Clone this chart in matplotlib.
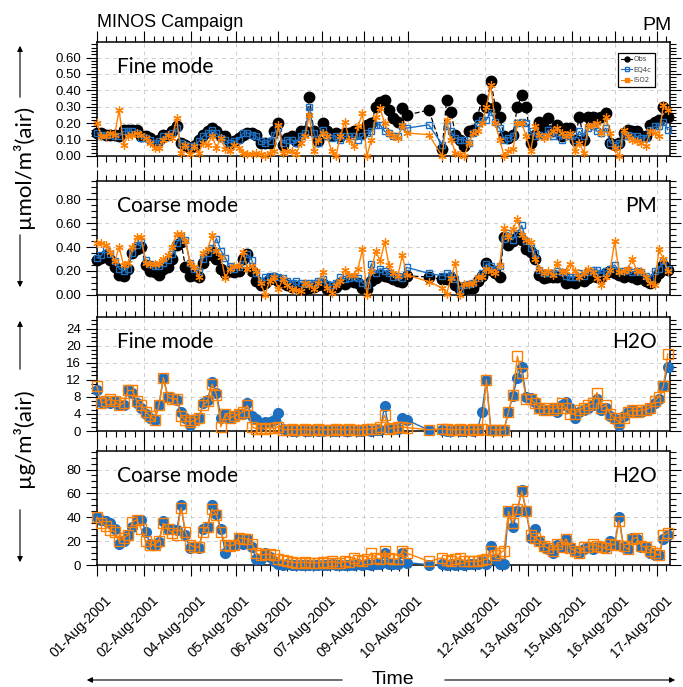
import numpy as np
import matplotlib
matplotlib.use('Agg')
import matplotlib.pyplot as plt
from matplotlib.ticker import MultipleLocator, FixedLocator, FormatStrFormatter
from matplotlib.lines import Line2D
from matplotlib.patches import FancyArrowPatch
from matplotlib.transforms import ScaledTranslation

# sampling times: hours after 01-Aug-2001 15:00, 3-hourly, data gap on 10/11 Aug
hours = [3 * i for i in range(71)] + [225] + [234 + 3 * i for i in range(52)]

tick_hours = [0, 32, 64, 94, 123, 152.5, 181, 211, 263, 292, 322, 351, 380]
tick_labels = ['01-Aug-2001', '02-Aug-2001', '04-Aug-2001', '05-Aug-2001',
               '06-Aug-2001', '07-Aug-2001', '09-Aug-2001', '10-Aug-2001',
               '12-Aug-2001', '13-Aug-2001', '15-Aug-2001', '16-Aug-2001',
               '17-Aug-2001']
gap_minor = [234, 239.5, 245, 250.5, 256, 386]

# PM fine mode (umol/m3)
obs_pm_fine = [0.14, 0.14, 0.13, 0.13, 0.13, 0.12, 0.16, 0.16, 0.16, 0.16,
               0.12, 0.12, 0.11, 0.09, 0.10, 0.13, 0.13, 0.15, 0.18, 0.08,
               0.07, 0.05, 0.06, 0.10, 0.13, 0.15, 0.17, 0.15, 0.12, 0.12,
               0.08, 0.09, 0.11, 0.13, 0.14, 0.14, 0.13, 0.08, 0.08, 0.08,
               0.15, 0.20, 0.07, 0.11, 0.12, 0.09, 0.15, 0.15, 0.36, 0.15,
               0.09, 0.20, 0.15, 0.13, 0.14, 0.12, 0.14, 0.14, 0.15, 0.14,
               0.14, 0.19, 0.20, 0.30, 0.33, 0.34, 0.28, 0.23, 0.21, 0.29, 0.25,
               0.28,
               0.04, 0.34, 0.27, 0.13, 0.10, 0.06, 0.15, 0.16, 0.24, 0.35,
               0.30, 0.46, 0.30, 0.24, 0.12, 0.11, 0.13, 0.30, 0.37, 0.30,
               0.08, 0.13, 0.21, 0.17, 0.23, 0.15, 0.19, 0.12, 0.17, 0.17,
               0.10, 0.24, 0.10, 0.24, 0.24, 0.23, 0.24, 0.26, 0.08, 0.07,
               0.08, 0.14, 0.16, 0.15, 0.15, 0.12, 0.12, 0.19, 0.21, 0.22,
               0.30, 0.24]
eq4c_pm_fine = [0.14, 0.13, 0.13, 0.13, 0.12, 0.12, 0.15, 0.15, 0.15, 0.14,
                0.11, 0.11, 0.10, 0.08, 0.09, 0.12, 0.12, 0.14, 0.17, 0.08,
                0.07, 0.06, 0.06, 0.09, 0.12, 0.14, 0.16, 0.14, 0.11, 0.10,
                0.08, 0.09, 0.10, 0.14, 0.14, 0.13, 0.12, 0.09, 0.08, 0.09,
                0.13, 0.17, 0.08, 0.10, 0.10, 0.08, 0.12, 0.14, 0.30, 0.14,
                0.08, 0.16, 0.12, 0.11, 0.12, 0.10, 0.12, 0.12, 0.12, 0.10,
                0.12, 0.14, 0.15, 0.19, 0.19, 0.15, 0.14, 0.12, 0.12, 0.18, 0.17,
                0.19,
                0.07, 0.18, 0.15, 0.11, 0.10, 0.10, 0.08, 0.14, 0.20, 0.22,
                0.22, 0.27, 0.21, 0.17, 0.10, 0.11, 0.12, 0.20, 0.21, 0.20,
                0.15, 0.12, 0.13, 0.12, 0.16, 0.12, 0.14, 0.10, 0.13, 0.12,
                0.10, 0.15, 0.12, 0.17, 0.18, 0.15, 0.14, 0.17, 0.08, 0.07,
                0.08, 0.12, 0.13, 0.12, 0.12, 0.11, 0.11, 0.16, 0.18, 0.18,
                0.21, 0.16]
iso2_pm_fine = [0.20, 0.12, 0.12, 0.14, 0.13, 0.28, 0.07, 0.12, 0.13, 0.14,
                0.13, 0.11, 0.08, 0.05, 0.05, 0.10, 0.13, 0.11, 0.23, 0.02,
                0.07, 0.01, 0.06, 0.02, 0.08, 0.07, 0.12, 0.05, 0.11, 0.04,
                0.03, 0.07, 0.05, 0.02, 0.01, 0.01, 0.02, 0.01, 0.00, 0.02,
                0.03, 0.19, 0.02, 0.03, 0.03, 0.01, 0.08, 0.12, 0.25, 0.03,
                0.10, 0.14, 0.12, 0.03, 0.00, 0.12, 0.21, 0.10, 0.06, 0.18,
                0.26, 0.00, 0.10, 0.24, 0.29, 0.20, 0.14, 0.12, 0.11, 0.19, 0.14,
                0.13,
                0.00, 0.22, 0.10, 0.02, 0.01, 0.00, 0.08, 0.14, 0.15, 0.20,
                0.30, 0.43, 0.20, 0.10, 0.00, 0.03, 0.04, 0.20, 0.20, 0.12,
                0.03, 0.18, 0.13, 0.11, 0.13, 0.15, 0.17, 0.14, 0.12, 0.14,
                0.03, 0.08, 0.02, 0.18, 0.19, 0.20, 0.14, 0.24, 0.14, 0.05,
                0.00, 0.16, 0.12, 0.10, 0.09, 0.08, 0.06, 0.15, 0.14, 0.12,
                0.31, 0.28]

# PM coarse mode (umol/m3)
obs_pm_coarse = [0.29, 0.31, 0.33, 0.29, 0.23, 0.17, 0.16, 0.22, 0.35, 0.38,
                 0.40, 0.25, 0.20, 0.19, 0.17, 0.22, 0.23, 0.30, 0.42, 0.44,
                 0.23, 0.16, 0.17, 0.15, 0.27, 0.33, 0.36, 0.30, 0.22, 0.18,
                 0.20, 0.19, 0.20, 0.30, 0.34, 0.20, 0.12, 0.08, 0.10, 0.13,
                 0.14, 0.12, 0.10, 0.08, 0.07, 0.07, 0.06, 0.05, 0.06, 0.07,
                 0.08, 0.09, 0.05, 0.06, 0.07, 0.10, 0.09, 0.12, 0.11, 0.10,
                 0.06, 0.05, 0.12, 0.14, 0.17, 0.16, 0.15, 0.13, 0.12, 0.11, 0.16,
                 0.15,
                 0.13, 0.13, 0.14, 0.08, 0.05, 0.05, 0.06, 0.06, 0.12, 0.16,
                 0.27, 0.21, 0.18, 0.15, 0.48, 0.42, 0.45, 0.48, 0.46, 0.38,
                 0.36, 0.30, 0.17, 0.14, 0.15, 0.15, 0.15, 0.16, 0.10, 0.11,
                 0.10, 0.13, 0.12, 0.14, 0.16, 0.15, 0.15, 0.18, 0.20, 0.18,
                 0.17, 0.15, 0.17, 0.15, 0.13, 0.14, 0.12, 0.10, 0.14, 0.18,
                 0.25, 0.21]
eq4c_pm_coarse = [0.31, 0.33, 0.38, 0.34, 0.28, 0.22, 0.20, 0.22, 0.35, 0.42,
                  0.44, 0.29, 0.26, 0.24, 0.24, 0.27, 0.29, 0.34, 0.43, 0.49,
                  0.46, 0.27, 0.22, 0.20, 0.30, 0.35, 0.39, 0.47, 0.37, 0.31,
                  0.24, 0.22, 0.23, 0.26, 0.34, 0.29, 0.18, 0.12, 0.15, 0.16,
                  0.16, 0.15, 0.14, 0.12, 0.10, 0.12, 0.10, 0.09, 0.10, 0.10,
                  0.12, 0.13, 0.09, 0.08, 0.10, 0.15, 0.13, 0.14, 0.15, 0.14,
                  0.10, 0.08, 0.26, 0.18, 0.22, 0.20, 0.18, 0.15, 0.16, 0.14, 0.23,
                  0.18,
                  0.16, 0.18, 0.17, 0.13, 0.05, 0.08, 0.09, 0.10, 0.14, 0.18,
                  0.26, 0.24, 0.22, 0.24, 0.47, 0.52, 0.46, 0.52, 0.58, 0.45,
                  0.39, 0.35, 0.21, 0.18, 0.18, 0.18, 0.20, 0.19, 0.16, 0.15,
                  0.15, 0.18, 0.16, 0.19, 0.21, 0.21, 0.18, 0.20, 0.22, 0.25,
                  0.20, 0.20, 0.21, 0.19, 0.20, 0.19, 0.16, 0.14, 0.20, 0.22,
                  0.28, 0.22]
iso2_pm_coarse = [0.43, 0.43, 0.42, 0.36, 0.28, 0.40, 0.25, 0.27, 0.40, 0.48,
                  0.48, 0.27, 0.26, 0.26, 0.27, 0.30, 0.33, 0.40, 0.51, 0.51,
                  0.45, 0.27, 0.23, 0.15, 0.35, 0.38, 0.50, 0.37, 0.32, 0.14,
                  0.22, 0.24, 0.24, 0.36, 0.22, 0.24, 0.20, 0.10, 0.00, 0.12,
                  0.15, 0.05, 0.13, 0.08, 0.05, 0.04, 0.03, 0.10, 0.08, 0.05,
                  0.10, 0.19, 0.06, 0.02, 0.08, 0.12, 0.21, 0.17, 0.17, 0.22,
                  0.38, 0.00, 0.20, 0.37, 0.28, 0.44, 0.25, 0.18, 0.16, 0.33, 0.17,
                  0.11,
                  0.06, 0.01, 0.14, 0.27, 0.00, 0.09, 0.09, 0.10, 0.15, 0.15,
                  0.22, 0.20, 0.18, 0.25, 0.56, 0.48, 0.55, 0.63, 0.50, 0.46,
                  0.44, 0.30, 0.22, 0.18, 0.20, 0.17, 0.27, 0.19, 0.20, 0.26,
                  0.20, 0.15, 0.18, 0.22, 0.19, 0.14, 0.08, 0.15, 0.21, 0.45,
                  0.19, 0.20, 0.22, 0.30, 0.20, 0.20, 0.15, 0.10, 0.08, 0.38,
                  0.30, 0.20]

# H2O fine mode (ug/m3)
eq4c_h2o_fine = [9.5, 6.8, 6.8, 6.5, 7.0, 6.2, 6.0, 9.5, 8.8, 6.5,
                 5.5, 4.0, 3.0, 2.5, 6.0, 12.5, 8.0, 7.7, 7.3, 4.5,
                 3.0, 1.5, 2.5, 3.0, 6.5, 7.3, 11.5, 9.0, 3.0, 4.0,
                 3.0, 3.5, 4.0, 4.0, 6.5, 3.5, 2.8, 1.5, 2.0, 2.2,
                 2.5, 4.3, 0.5, 0.2, 0.1, 0.1, 0.2, 0.1, 0.1, 0.2,
                 0.1, 0.1, 0.2, 0.1, 0.1, 0.2, 0.1, 0.1, 0.2, 0.1,
                 0.1, 0.2, 0.1, 0.2, 0.3, 5.8, 0.6, 0.4, 0.5, 3.0, 2.6,
                 0.2,
                 0.2, 0.1, 0.1, 0.2, 0.1, 0.1, 0.2, 0.1, 0.3, 4.5,
                 12.0, 0.3, 0.2, 0.2, 0.3, 4.5, 8.3, 12.5, 15.0, 8.0,
                 7.7, 6.7, 5.5, 5.0, 5.0, 5.5, 4.5, 6.0, 6.8, 5.5,
                 3.0, 4.5, 5.0, 5.5, 6.0, 7.5, 5.0, 5.5, 3.5, 2.8,
                 1.5, 3.5, 4.5, 5.0, 4.5, 4.5, 5.0, 5.5, 6.5, 7.5,
                 10.5, 15.0]
iso2_h2o_fine = [10.5, 6.5, 7.0, 7.5, 7.0, 6.0, 6.5, 9.5, 9.5, 7.0,
                 6.0, 4.5, 3.5, 2.5, 6.0, 12.5, 8.0, 7.5, 7.5, 3.5,
                 2.5, 2.0, 2.5, 3.0, 6.0, 7.0, 11.0, 8.5, 1.0, 4.0,
                 3.0, 3.5, 4.0, 4.5, 6.0, 1.0, 0.5, 0.8, 0.5, 0.8,
                 0.6, 1.0, 0.3, 0.3, 0.4, 0.3, 0.3, 0.4, 0.3, 0.3,
                 0.4, 0.3, 0.3, 0.3, 0.4, 0.3, 0.3, 0.4, 0.3, 0.3,
                 0.3, 0.4, 0.5, 0.5, 1.0, 3.7, 0.5, 0.8, 1.0, 1.0, 0.8,
                 0.3,
                 0.5, 0.4, 0.3, 0.3, 0.4, 0.3, 0.3, 0.4, 0.3, 0.5,
                 12.0, 0.3, 0.3, 0.3, 0.3, 4.5, 8.5, 17.5, 13.5, 7.5,
                 7.5, 6.5, 5.5, 5.0, 5.5, 5.0, 5.5, 6.5, 5.5, 4.0,
                 4.0, 5.0, 5.5, 6.0, 6.5, 9.0, 5.5, 6.0, 4.0, 3.0,
                 2.0, 3.0, 4.5, 5.0, 4.5, 5.0, 5.0, 5.5, 7.0, 8.0,
                 10.5, 18.0]

# H2O coarse mode (ug/m3)
eq4c_h2o_coarse = [40, 38, 37, 35, 30, 18, 20, 25, 32, 38,
                   38, 28, 18, 17, 19, 37, 30, 30, 29, 50,
                   25, 14, 15, 14, 30, 32, 50, 43, 30, 10,
                   17, 17, 23, 18, 22, 15, 5, 5, 10, 7,
                   3, 0.5, 0.3, 0.5, 0.3, 0.2, 0.3, 0.2, 0.3, 0.2,
                   0.3, 0.2, 0.3, 0.5, 0.3, 0.2, 0.3, 0.2, 0.3, 0.5,
                   0.3, 0.5, 0.3, 0.8, 1.0, 10, 1.0, 1.0, 1.0, 10, 2.0,
                   0.3,
                   0.5, 0.3, 0.5, 0.3, 0.5, 0.3, 0.5, 0.8, 0.5, 3.0,
                   0.5, 16, 5, 0.5, 0.5, 45, 32, 45, 63, 45,
                   23, 30, 20, 15, 13, 10, 17, 15, 22, 15,
                   12, 10, 13, 15, 13, 15, 15, 15, 20, 17,
                   40, 15, 13, 23, 22, 15, 15, 10, 8, 8,
                   22, 25]
iso2_h2o_coarse = [40, 35, 33, 29, 28, 20, 23, 25, 36, 38,
                   30, 20, 17, 17, 20, 35, 30, 27, 25, 48,
                   28, 17, 15, 15, 28, 32, 47, 42, 28, 17,
                   16, 17, 23, 22, 22, 18, 10, 8, 9, 9,
                   8, 5, 4, 3, 2.5, 2, 2, 2.5, 2, 2,
                   2, 2.5, 2, 3, 2, 2, 3, 2.5, 6, 4,
                   3, 5, 10, 6, 5, 12, 6, 5, 5, 12, 10,
                   3,
                   6, 4, 3, 5, 6, 3, 3, 3, 3, 4,
                   5, 12, 8, 10, 12, 45, 35, 47, 62, 45,
                   25, 23, 20, 16, 14, 12, 18, 15, 22, 14,
                   12, 10, 15, 15, 18, 16, 15, 14, 18, 17,
                   37, 16, 13, 22, 23, 16, 15, 12, 10, 8,
                   25, 27]

blue = '#1f6fc0'
orange = '#ff8000'
W, H = 683, 687

fig = plt.figure(figsize=(W / 100, H / 100), dpi=100)


def rect(top, bottom):
    return [97 / W, 1 - bottom / H, 573 / W, (bottom - top) / H]


def px(x, y):
    return (x / W, 1 - y / H)


minor = []
for a, b in zip(tick_hours[:-1], tick_hours[1:]):
    if b - a < 40:
        minor += list(np.linspace(a, b, 6)[1:-1])
minor += gap_minor

ax1 = fig.add_axes(rect(42, 156))
ax2 = fig.add_axes(rect(181, 295))
ax3 = fig.add_axes(rect(317, 431))
ax4 = fig.add_axes(rect(451, 565))

setup = [(ax1, 0.695, 0.1, 0.02, '%.2f', 0.6),
         (ax2, 0.95, 0.2, 0.05, '%.2f', 0.8),
         (ax3, 26.7, 4, 1, '%d', 24),
         (ax4, 95.5, 20, 5, '%d', 80)]

for ax, ymax, maj, mnr, fmt, top in setup:
    ax.set_xlim(0, 388.5)
    ax.set_ylim(0, ymax)
    ax.xaxis.set_major_locator(FixedLocator(tick_hours))
    ax.xaxis.set_minor_locator(FixedLocator(minor))
    ax.yaxis.set_major_locator(FixedLocator(np.arange(0, top + maj / 2, maj)))
    ax.yaxis.set_minor_locator(MultipleLocator(mnr))
    ax.yaxis.set_major_formatter(FormatStrFormatter(fmt))
    ax.grid(True, which='major', color='#cfcfcf', ls=(0, (4, 4)), lw=0.7)
    ax.set_axisbelow(True)
    ax.tick_params(which='both', direction='out', top=True, right=True,
                   width=0.8, labelsize=9.5)
    ax.tick_params(which='major', length=8)
    ax.tick_params(which='minor', length=4)
    for s in ax.spines.values():
        s.set_linewidth(1.1)
    for lab in ax.get_yticklabels():
        lab.set_fontfamily('Liberation Sans')
    if ax is not ax4:
        ax.tick_params(labelbottom=False)

# PM panels
for ax, o, e, s in [(ax1, obs_pm_fine, eq4c_pm_fine, iso2_pm_fine),
                    (ax2, obs_pm_coarse, eq4c_pm_coarse, iso2_pm_coarse)]:
    ax.plot(hours, o, color='k', ls=(0, (4, 2)), lw=0.9, marker='o', ms=7.5,
            zorder=3, clip_on=False)
    ax.plot(hours, e, color=blue, lw=1.0, marker='s', ms=4.5, mfc='none',
            mec=blue, mew=1.0, zorder=4, clip_on=False)
    ax.plot(hours, s, color=orange, lw=1.0, marker=(6, 2, 0), ms=6,
            mec=orange, mew=0.9, zorder=5, clip_on=False)

# H2O panels
for ax, e, s in [(ax3, eq4c_h2o_fine, iso2_h2o_fine),
                 (ax4, eq4c_h2o_coarse, iso2_h2o_coarse)]:
    ax.plot(hours, e, color=blue, lw=1.0, marker='o', ms=7, mfc=blue,
            mec=blue, zorder=4, clip_on=False)
    ax.plot(hours, s, color=orange, lw=1.0, marker='s', ms=6.5, mfc='none',
            mec=orange, mew=1.0, zorder=5, clip_on=False)

# panel labels
for ax, left, right in [(ax1, 'Fine mode', None), (ax2, 'Coarse mode', 'PM'),
                        (ax3, 'Fine mode', 'H2O'), (ax4, 'Coarse mode', 'H2O')]:
    ax.text(0.035, 0.725, left, transform=ax.transAxes, fontsize=15,
            family='Lato', va='baseline', ha='left')
    if right:
        ax.text(0.977, 0.725, right, transform=ax.transAxes, fontsize=15,
                family='Lato', va='baseline', ha='right')

# x tick labels
ax4.set_xticks(tick_hours)
ax4.set_xticklabels(tick_labels, rotation=45, ha='right', va='center',
                    rotation_mode='anchor', fontsize=10, family='Liberation Sans')
ax4.tick_params(axis='x', which='major', pad=16)
for lab in ax4.get_xticklabels():
    lab.set_transform(lab.get_transform() +
                      ScaledTranslation(0.12, 0, fig.dpi_scale_trans))

# legend
handles = [Line2D([], [], color='k', marker='o', ms=3.5, lw=0.8),
           Line2D([], [], color=blue, marker='s', ms=2.5, mfc='none', lw=0.8),
           Line2D([], [], color=orange, marker='s', ms=2.5, lw=0.8)]
leg = ax1.legend(handles, ['Obs', 'EQ4c', 'ISO2'], loc='upper left',
                 bbox_to_anchor=(0.909, 0.904), fontsize=5, frameon=True,
                 fancybox=False, edgecolor='k', framealpha=1,
                 handlelength=1.6, borderpad=0.5, labelspacing=0.65,
                 handletextpad=0.2, borderaxespad=0)
leg.get_frame().set_linewidth(0.9)
for t in leg.get_texts():
    t.set_color('#444444')

# titles
fig.text(97 / W, 1 - 27 / H, 'MINOS Campaign', fontsize=13,
         family='Liberation Sans', va='baseline', ha='left')
fig.text(672 / W, 1 - 30 / H, 'PM', fontsize=14,
         family='Liberation Sans', va='baseline', ha='right')

# y axis labels with arrows
fig.text(23 / W, 1 - 166 / H, 'µmol/m³(air)', rotation=90, fontsize=16,
         family='Lato', ha='center', va='center')
fig.text(23 / W, 1 - 438 / H, 'µg/m³(air)', rotation=90, fontsize=16,
         family='Lato', ha='center', va='center')
fig.text(393 / W, 1 - 680 / H, 'Time', fontsize=14,
         family='Liberation Sans', ha='center', va='center')

arrows = [((20, 100), (20, 43)), ((20, 232), (20, 290)),
          ((20, 372), (20, 318)), ((20, 507), (20, 565)),
          ((345, 680), (84, 680)), ((442, 680), (678, 680))]
for a, b in arrows:
    fig.add_artist(FancyArrowPatch(px(*a), px(*b), transform=fig.transFigure,
                                   arrowstyle='-|>', mutation_scale=8,
                                   lw=0.8, color='k'))

fig.savefig('out.png', dpi=100)
